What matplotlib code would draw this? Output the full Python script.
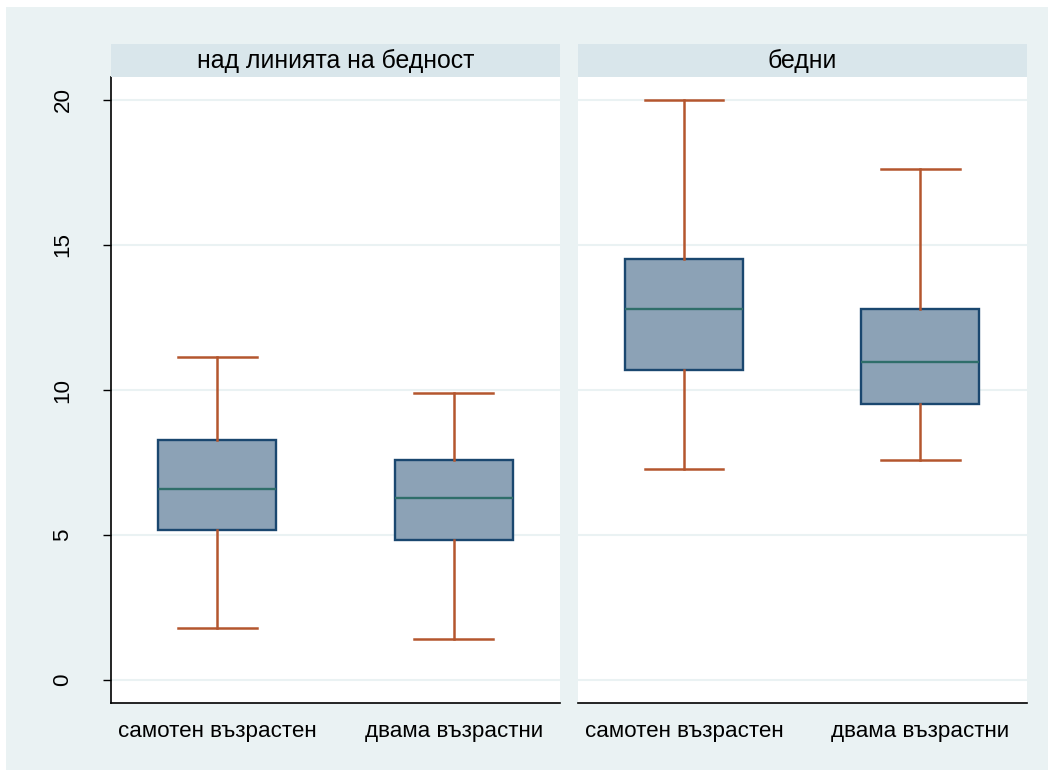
import matplotlib
matplotlib.use("Agg")
import matplotlib.pyplot as plt
from matplotlib.patches import Rectangle

plt.rcParams["font.family"] = ["Liberation Sans", "DejaVu Sans"]

# Panels (poverty status) and box categories (household type)
groups = ["над линията на бедност", "бедни"]
categories = ["самотен възрастен", "двама възрастни"]

# Box summary statistics, one list per panel, one value per category
whisker_low = [[1.80, 1.41], [7.28, 7.57]]
quartile_1 = [[5.18, 4.83], [10.69, 9.53]]
median = [[6.59, 6.29], [12.79, 10.97]]
quartile_3 = [[8.28, 7.57], [14.52, 12.80]]
whisker_high = [[11.14, 9.90], [20.00, 17.62]]

yticks = [0, 5, 10, 15, 20]

W, H = 1048, 770
BG = "#EAF2F3"
STRIP = "#D9E6EB"
BOX_FILL = "#8CA2B6"
BOX_EDGE = "#1A476F"
MED = "#2F6E6A"
WHISK = "#B4562E"

fig = plt.figure(figsize=(W / 100, H / 100), dpi=100, facecolor="white")
fig.patches.append(Rectangle((6 / W, 0), 1 - 6 / W, (H - 7) / H,
                             transform=fig.transFigure, facecolor=BG,
                             edgecolor="none", zorder=-10))

panel_left = [111, 577.7]
panel_right = [560, 1026.7]
plot_top, plot_bottom = 77.3, 703
strip_top = 44

for gi, name in enumerate(groups):
    l, r = panel_left[gi], panel_right[gi]
    ax = fig.add_axes([l / W, (H - plot_bottom) / H, (r - l) / W,
                       (plot_bottom - plot_top) / H])
    ax.set_facecolor("white")
    stats = []
    for ci, cat in enumerate(categories):
        stats.append(dict(label=cat, med=median[gi][ci],
                          q1=quartile_1[gi][ci], q3=quartile_3[gi][ci],
                          whislo=whisker_low[gi][ci],
                          whishi=whisker_high[gi][ci], fliers=[]))
    ax.bxp(stats, positions=[1, 2], widths=0.5, capwidths=0.333,
           showfliers=False, patch_artist=True,
           boxprops=dict(facecolor=BOX_FILL, edgecolor=BOX_EDGE, linewidth=1.7),
           medianprops=dict(color=MED, linewidth=1.7),
           whiskerprops=dict(color=WHISK, linewidth=1.8),
           capprops=dict(color=WHISK, linewidth=1.8),
           zorder=3)
    ax.set_xlim(0.55, 2.45)
    ax.set_ylim(-0.79, 20.78)
    ax.set_yticks(yticks)
    ax.yaxis.grid(True, color=BG, linewidth=1.5, zorder=0)
    ax.set_axisbelow(True)
    ax.set_xticks([1, 2])
    ax.set_xticklabels(categories, fontsize=16.1)
    ax.tick_params(axis="x", length=0, pad=13)
    for s in ["top", "right"]:
        ax.spines[s].set_visible(False)
    ax.spines["bottom"].set_linewidth(1.2)
    if gi == 0:
        ax.spines["left"].set_linewidth(1.2)
        ax.tick_params(axis="y", length=6, width=1.0, pad=21, labelsize=16.1)
        for lab in ax.get_yticklabels():
            lab.set_rotation(90)
            lab.set_va("center")
    else:
        ax.spines["left"].set_visible(False)
        ax.tick_params(axis="y", length=0, labelleft=False)

    sax = fig.add_axes([l / W, (H - plot_top) / H, (r - l) / W,
                        (plot_top - strip_top) / H])
    sax.set_facecolor(STRIP)
    sax.set_xticks([])
    sax.set_yticks([])
    for s in sax.spines.values():
        s.set_visible(False)
    sax.text(0.5, 0.5, name, ha="center", va="center", fontsize=17.9,
             transform=sax.transAxes)

fig.savefig("out.png", dpi=100, facecolor="white")
